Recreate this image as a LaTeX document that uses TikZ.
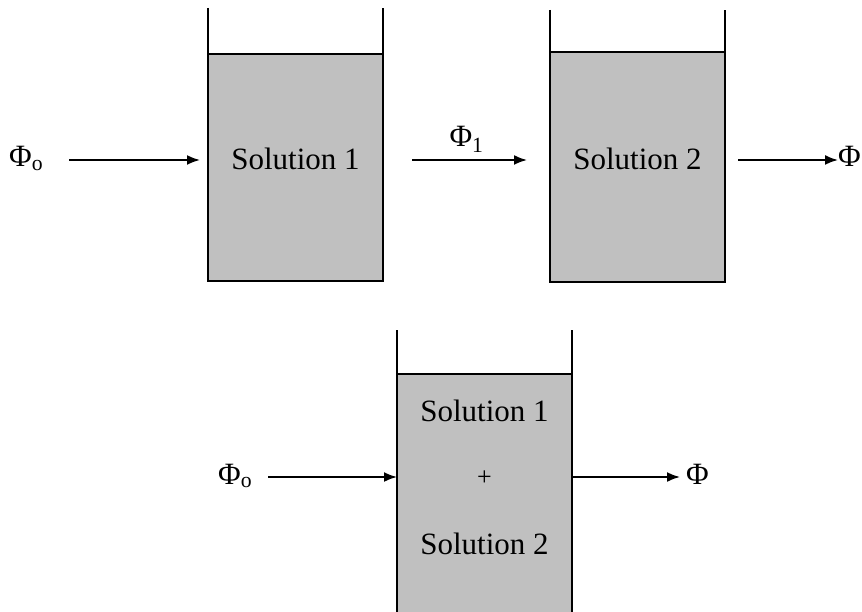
\documentclass[tikz,border=0pt]{standalone}
\usepackage{fontspec}
\setmainfont{Liberation Serif}
\usetikzlibrary{arrows.meta}

\definecolor{liquidgray}{RGB}{192,192,192}
\tikzset{
  liquid/.style={draw=black, line width=2pt, fill=liquidgray, inner sep=0pt, outer sep=0pt},
  wall/.style={line width=2.6pt, line cap=butt},
  arr/.style={line width=1.8pt, -{Latex[length=13pt,width=10pt]}},
  lbl/.style={font=\fontsize{31}{36}\selectfont, inner sep=0pt, anchor=base},
  flux/.style={font=\fontsize{31}{36}\selectfont, inner sep=0pt, anchor=base west},
}

\begin{document}
\begin{tikzpicture}[x=1pt,y=-1pt]
\useasboundingbox[fill=white] (0,0) rectangle (862,612);

% ---- first tank ----
\node[liquid, minimum width=175pt, minimum height=227pt] (c1) at (295.5,167.5) {};
\draw[wall] (208,8) -- (c1.north west) -- (c1.south west) -- (c1.south east) -- (c1.north east) -- (383,8);
\node[lbl] (s1) at (295.5,170) {Solution 1};

% ---- second tank ----
\node[liquid, minimum width=175pt, minimum height=230pt] (c2) at (637.5,167) {};
\draw[wall] (550,10) -- (c2.north west) -- (c2.south west) -- (c2.south east) -- (c2.north east) -- (725,10);
\node[lbl] (s2) at (637.5,170) {Solution 2};

% ---- combined tank (runs off the bottom edge) ----
\node[liquid, draw=none, minimum width=175pt, minimum height=240pt] (c3) at (484.5,494) {};
\draw[line width=2pt] (c3.north west) -- (c3.north east);
\draw[wall] (397,330) -- (397,612);
\draw[wall] (572,330) -- (572,612);
\node[lbl] (s3a) at (484.5,421) {Solution 1};
\node[lbl, font=\fontsize{26}{30}\selectfont] (plus) at (484.5,485) {+};
\node[lbl] (s3b) at (484.5,554) {Solution 2};

% ---- fluxes, top row ----
\node[flux] (f0) at (9,167) {Φ\textsubscript{o}};
\coordinate (a0s) at (69,160);
\coordinate (a0e) at (200,160);
\draw[arr] (a0s) -- (a0e);

\node[lbl] (f1) at (466.5,147) {Φ\textsubscript{1}};
\coordinate (a1s) at (412,160);
\coordinate (a1e) at (527,160);
\draw[arr] (a1s) -- (a1e);

\node[flux] (f2) at (838,167) {Φ};
\coordinate (a2s) at (738,160);
\draw[arr] (a2s) -- (f2.west |- a2s);

% ---- fluxes, bottom row ----
\node[flux] (g0) at (218,484) {Φ\textsubscript{o}};
\coordinate (b0s) at (268,477);
\draw[arr] (b0s) -- (c3.west |- b0s);

\node[flux] (g1) at (686,484) {Φ};
\draw[arr] (c3.east |- b0s) -- ([xshift=-6pt]g1.west |- b0s);
\end{tikzpicture}
\end{document}
